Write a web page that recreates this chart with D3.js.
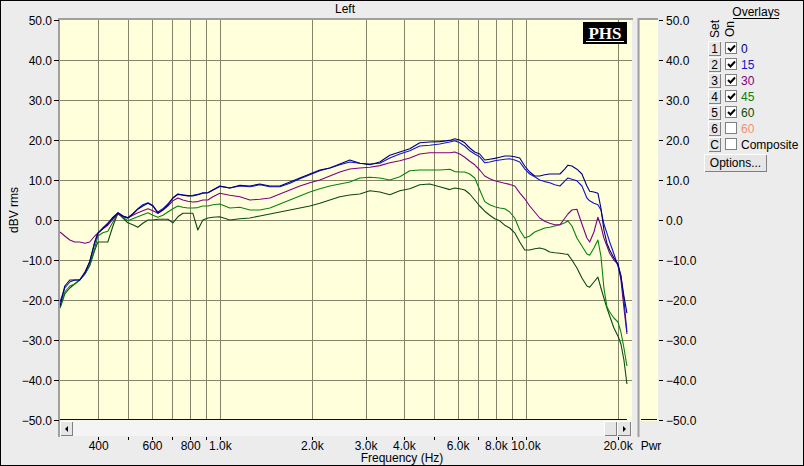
<!DOCTYPE html>
<html><head><meta charset="utf-8">
<script src="https://cdn.jsdelivr.net/npm/d3@7"></script>
<style>
html,body{margin:0;padding:0;background:#ececec;}
svg{display:block;}
text{font-family:"Liberation Sans",Arial,sans-serif;font-size:12px;fill:#000;}
</style></head><body>
<svg id="c" width="804" height="466"></svg>
<script>
// ---------------- DATA ----------------
const freqs = [300,311,323,335,348,362,375,390,
  399,414,430,447,464,482,500,519,539,560,582,604,627,651,676,702,729,757,786,816,847,880,914,949,
  1000,
  1078,1163,1254,1352,1458,1572,1695,1827,1970,2124,2290,2469,2662,2870,3095,3337,3597,3879,4182,4509,4861,5241,5651,
  5868,6093,6327,6570,6822,7084,7355,7637,7930,8234,8550,8878,9219,9572,9940,10321,10717,11128,11555,11998,12458,12958,13454,
  13761,14183,14728,15294,15879,16215,16739,17251,17645,18048,18461,18850,19461,20058,20515,20984,21464];

const db0 = [-21.5,-16.5,-15,-15,-15,-13,-10.5,-5.5,
  -3.3,-2.2,-1,0.5,1.8,1,0.5,1.5,2.7,3.5,4.2,3.5,1.7,2.5,3.8,5.5,6.5,6.2,6,6,6.3,6.7,6.8,7.5,
  8.5,
  8,8.7,8.5,9,8.5,8.5,9.5,10.5,11.5,12.5,13,14,15,14.2,13.8,14.5,16.2,17,17.8,19.3,19.5,19.6,19.9,
  20.3,20,19.3,18,17,16.5,15,15.2,15.4,15.7,16,16,15.8,15.5,13.5,12,11,11,11.3,11.5,11.5,11.5,12.8,
  13.7,13.5,12.7,11.5,8.5,7.2,7,6.7,3,-2.5,-5.8,-7.5,-9.5,-11,-14,-19,-23.3];

const db15 = [-20.5,-17,-15.5,-15,-15,-13.3,-10.5,-5.5,
  -3.3,-2,-0.8,0.7,1.8,1,0.6,1.5,2.8,3.8,4.3,3.6,2,2.8,4,5.5,6.4,6.3,6.1,6.2,6.4,6.8,6.8,7.5,
  8.4,
  8,8.5,8.3,8.8,8.3,8.3,9.2,10.3,11.3,12.3,13,13.8,14.5,14.2,14,14.2,15.5,16.5,17.3,18.5,18.7,19,19.5,
  19.8,19.3,18.5,17.3,16.5,15.8,14.3,14.5,14.8,15,15.2,15.3,15,14.5,12.8,11.5,10.8,10,9.6,9.3,8.8,8.5,9.8,
  10.5,10.2,9.8,8.5,5.5,4.8,4.2,3.8,2.5,-1,-3.3,-5.5,-8.5,-11.5,-14,-20,-28];

const db30 = [-3,-4,-5,-5.5,-5.5,-5.8,-5.5,-4,
  -3.3,-2.2,-1.3,0.2,1.5,0.8,0.5,1.2,1.8,2.3,2.8,2.3,1.7,2.5,3.5,4.8,5.5,5,4.7,4.5,4.6,5,5,5.8,
  6.7,
  6.2,5.8,5,5.2,5.5,6.5,7.5,8.5,9.3,10,11,12,12.75,13,13.2,13.6,14.3,14.8,15.5,16.5,16.8,16.8,16.8,
  17,16.5,15.7,14.7,13.8,12.5,11,10.3,9.8,9.5,9.2,8.9,8.5,6.8,5.3,3.5,2,0.5,-0.3,-0.8,-1.2,-1.2,0.5,
  1.5,2.5,2.7,-1,-4.5,-5.5,-3,0.7,-1.5,-4.5,-6.5,-8.3,-10,-11,-15,-22,-28.5];

const db45 = [-22,-18,-16.5,-16,-15,-13.5,-11.3,-7,
  -4,-3.2,-2.8,-0.5,1.6,0.7,-0.2,0.3,0.8,1.3,1.8,1.2,0.7,1.2,2,2.8,3.5,3.2,3,3,3.1,3.5,3.5,3.8,
  4,
  3,3.2,2.5,2.5,3,4,5,6,7,7.8,8.5,9,9.5,10.5,10.7,10.5,10,10.8,12.3,12.5,12.5,12.5,12.7,
  12.1,12,12,11.5,10.5,7.5,4.6,3.8,3.3,3,2.8,2,0.5,-2.5,-4.5,-4,-3,-2.5,-2,-1.8,-1.5,-1.2,-0.7,
  -0.2,-1.5,-4.5,-6.5,-8.5,-8.8,-7,-5,-9,-17,-21.7,-23,-24.5,-25.5,-28,-32,-36.5];

const db60 = [-22,-18.5,-17,-16,-15,-13.5,-11.5,-7.5,
  -5.5,-5.5,-5.5,-1.5,1.7,0.5,-0.7,-1.2,-1.8,-0.8,0,0,0.2,0.2,0.2,-0.7,0.8,1.7,1.7,1.7,-2.5,0,0.5,0.7,
  0.8,
  0,0.3,0.5,1,1.5,2,2.5,3,3.5,4.2,5,5.8,6.25,6.5,7.3,7,6.3,7.3,7.8,8.8,9,8.3,7.6,
  8,7.8,7.5,6.5,5,3.5,2.2,1.2,0.3,-0.2,-1.3,-2,-3.2,-5.5,-7.5,-7.5,-7.2,-7,-7.3,-8,-8.2,-8.3,-8.5,
  -8.6,-10,-12,-14.5,-16.5,-16.8,-15.5,-14.3,-17,-19.5,-22,-24,-27,-29,-31,-35,-41];

const seriesNames = ["0","15","30","45","60"];
const pwrLevel = -50;

const yTicks = [50,40,30,20,10,0,-10,-20,-30,-40,-50];
const gridFreqs = [400,500,600,700,800,900,1000,2000,3000,4000,5000,6000,7000,8000,9000,10000,20000];
const xTickValues = [400,600,800,1000,2000,3000,4000,6000,8000,10000,20000];
const xTickLabels = ["400","600","800","1.0k","2.0k","3.0k","4.0k","6.0k","8.0k","10.0k","20.0k"];

const overlaySets = ["1","2","3","4","5","6","C"];
const overlayNames = ["0","15","30","45","60","60","Composite"];
const overlayOn = [true,true,true,true,true,false,false];

// ---------------- STYLE ----------------
const seriesColors = ["#00007a","#1414c8","#800080","#0a820a","#0c4a0c"];
const legendColors = ["#00007a","#1414c8","#800080","#0a820a","#0c4a0c","#f09070","#000"];
const plotBg = "#ffffdc";
const gridColor = "#858569";

const PL=60, PR=632, PT=20, PB=420;
const svg = d3.select("#c");

svg.append("rect").attr("width",804).attr("height",466).attr("fill","#ececec");

const x = d3.scaleLog().domain([300,22300]).range([PL,PR]);
const y = d3.scaleLinear().domain([-50,50]).range([PB,PT]);

// plot area
svg.append("rect").attr("x",PL).attr("y",PT).attr("width",PR-PL).attr("height",PB-PT).attr("fill",plotBg);
svg.append("path").attr("d",`M${PL-1},${PB+17}V${PT-1}H${PR+1}`).attr("stroke","#a0a0a0").attr("stroke-width",2).attr("fill","none");

// grid
const grid = svg.append("g").attr("shape-rendering","crispEdges");
grid.selectAll("line.v").data(gridFreqs).join("line")
  .attr("x1",d=>Math.round(x(d))+0.5).attr("x2",d=>Math.round(x(d))+0.5)
  .attr("y1",PT).attr("y2",PB).attr("stroke",gridColor);
grid.selectAll("line.h").data(yTicks.filter(d=>d<50 && d>-50)).join("line")
  .attr("x1",PL).attr("x2",PR)
  .attr("y1",d=>Math.round(y(d))+0.5).attr("y2",d=>Math.round(y(d))+0.5).attr("stroke",gridColor);

// PHS logo
const logo = svg.append("g");
logo.append("rect").attr("x",583).attr("y",22).attr("width",44).attr("height",22).attr("fill","#000");
logo.append("text").attr("x",605).attr("y",39).attr("text-anchor","middle")
  .style("font-family","'Liberation Serif','Times New Roman',serif").style("font-size","17px").style("font-weight","bold").style("fill","#fff")
  .text("PHS");
logo.append("line").attr("x1",586).attr("x2",624).attr("y1",41.5).attr("y2",41.5).attr("stroke","#fff").attr("stroke-width",1);

// clip
svg.append("clipPath").attr("id","clip").append("rect").attr("x",PL).attr("y",PT).attr("width",PR-PL).attr("height",PB-PT);

const allSeries = [db0,db15,db30,db45,db60];
const line = d3.line().x((d,i)=>x(freqs[i])).y(d=>y(d));
const curves = svg.append("g").attr("clip-path","url(#clip)");
allSeries.map((s,i)=>({s,i})).reverse().forEach(({s,i})=>{
  curves.append("path").datum(s).attr("d",line).attr("fill","none")
    .attr("stroke",seriesColors[i]).attr("stroke-width",1.1).attr("stroke-linejoin","round");
});

// Pwr line at bottom
svg.append("line").attr("x1",PL).attr("x2",x(freqs[freqs.length-1])).attr("y1",y(pwrLevel)-0.5).attr("y2",y(pwrLevel)-0.5)
  .attr("stroke","#000080").attr("stroke-width",1);

// left axis
const yAxisL = svg.append("g").attr("transform",`translate(${PL-1},0)`)
  .call(d3.axisLeft(y).tickValues(yTicks).tickFormat(d3.format(".1f")).tickSize(5).tickPadding(2));
yAxisL.select(".domain").remove();
yAxisL.selectAll("text").style("font-family","'Liberation Sans',Arial,sans-serif").style("font-size","12px").attr("dy","0.35em");
yAxisL.selectAll("line").attr("stroke","#000");

svg.append("text").attr("transform","translate(18,210) rotate(-90)").attr("text-anchor","middle").text("dBV rms");

svg.append("text").attr("x",345).attr("y",13).attr("text-anchor","middle").text("Left");

// scrollbar
const sb = svg.append("g").attr("shape-rendering","crispEdges");
sb.append("rect").attr("x",PL).attr("y",PB).attr("width",PR-PL).attr("height",16).attr("fill","#f4f4f4");
function button3d(g,bx,by,w,h){
  g.append("rect").attr("x",bx).attr("y",by).attr("width",w).attr("height",h).attr("fill","#e6e6e6");
  g.append("path").attr("d",`M${bx+0.5},${by+h-0.5}V${by+0.5}H${bx+w-0.5}`).attr("stroke","#fff").attr("fill","none");
  g.append("path").attr("d",`M${bx+0.5},${by+h-0.5}H${bx+w-0.5}V${by+0.5}`).attr("stroke","#808080").attr("fill","none");
}
button3d(sb,PL,PB+1,13,15);
button3d(sb,604,PB+1,13,15);
button3d(sb,617,PB+1,14,15);
svg.append("path").attr("d",`M${PL+5},${PB+9}l3,-3v6z`).attr("fill","#000");
svg.append("path").attr("d",`M${626},${PB+9}l-3,-3v6z`).attr("fill","#000");

// bottom axis
const xAxis = svg.append("g").attr("transform",`translate(0,${PB+17})`)
  .call(d3.axisBottom(x).tickValues(gridFreqs).tickSize(3).tickPadding(1)
    .tickFormat(d=>{const k=xTickValues.indexOf(d);return k>=0?xTickLabels[k]:"";}));
xAxis.select(".domain").remove();
xAxis.selectAll("line").attr("stroke","#000").attr("shape-rendering","crispEdges");
xAxis.selectAll("text").style("font-family","'Liberation Sans',Arial,sans-serif").style("font-size","12px");

svg.append("text").attr("x",402).attr("y",462).attr("text-anchor","middle").text("Frequency (Hz)");

// Pwr panel
const pw = svg.append("g");
pw.append("rect").attr("x",640).attr("y",PT).attr("width",18).attr("height",PB-PT+16).attr("fill",plotBg);
pw.append("rect").attr("x",640).attr("y",PB+1).attr("width",18).attr("height",15).attr("fill","#ececec");
pw.append("path").attr("d",`M638.5,${PB+17}V${PT-1}H658`).attr("stroke","#a0a0a0").attr("stroke-width",2).attr("fill","none");
pw.append("line").attr("x1",641).attr("x2",657).attr("y1",y(pwrLevel)-0.5).attr("y2",y(pwrLevel)-0.5).attr("stroke","#000080");
const yAxisR = svg.append("g").attr("transform","translate(659,0)")
  .call(d3.axisRight(y).tickValues(yTicks).tickFormat(d3.format(".1f")).tickSize(4).tickPadding(3));
yAxisR.select(".domain").remove();
yAxisR.selectAll("line").attr("stroke","#000");
yAxisR.selectAll("text").style("font-family","'Liberation Sans',Arial,sans-serif").style("font-size","12px").attr("dy","0.35em");
svg.append("text").attr("x",651).attr("y",450).attr("text-anchor","middle").text("Pwr");

// legend
const lg = svg.append("g");
lg.append("text").attr("x",756).attr("y",16).attr("text-anchor","middle").text("Overlays");
lg.append("line").attr("x1",733).attr("x2",779).attr("y1",18.5).attr("y2",18.5).attr("stroke","#000");
lg.append("text").attr("transform","translate(719,29) rotate(-90)").attr("text-anchor","middle").text("Set");
lg.append("text").attr("transform","translate(734,29) rotate(-90)").attr("text-anchor","middle").text("On");
overlaySets.forEach((s,i)=>{
  const cy = 48 + 16*i;
  const g = lg.append("g").attr("shape-rendering","crispEdges");
  button3d(g,708,cy-7,13,15);
  lg.append("text").attr("x",714.5).attr("y",cy+4.5).attr("text-anchor","middle").text(s);
  g.append("rect").attr("x",725.5).attr("y",cy-5.5).attr("width",11).attr("height",11).attr("fill","#fff").attr("stroke","#808080");
  if(overlayOn[i]){
    lg.append("path").attr("d",`M${728},${cy}l2.5,2.5l4.5,-5`).attr("stroke","#000").attr("stroke-width",2).attr("fill","none");
  }
  lg.append("text").attr("x",741).attr("y",cy+4.5).style("fill",legendColors[i]).text(overlayNames[i]);
});
const ob = lg.append("g").attr("shape-rendering","crispEdges");
button3d(ob,704,154,63,18);
lg.append("text").attr("x",735.5).attr("y",167).attr("text-anchor","middle").text("Options...");

svg.append("rect").attr("x",0.5).attr("y",0.5).attr("width",803).attr("height",465).attr("fill","none").attr("stroke","#000");
</script>
</body></html>
